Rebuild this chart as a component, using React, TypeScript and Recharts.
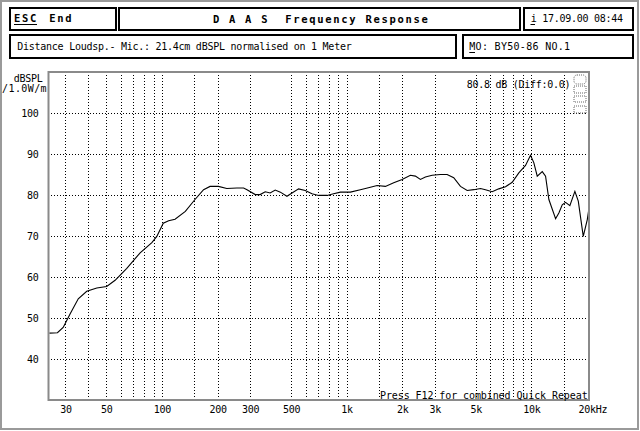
import React from "react";
import {
  LineChart,
  Line,
  XAxis,
  YAxis,
  ReferenceLine,
} from "recharts";

const freqs = [
  24.4, 27, 29, 31.6, 35, 38.9, 44.1, 49.9, 55.4, 64.1, 75.7, 87.6, 93.2, 101,
  108, 117, 133, 150, 167, 181, 201, 223, 253, 275, 287, 318, 338, 360, 383,
  408, 435, 472, 503, 546, 593, 645, 701, 778, 845, 919, 1041, 1179, 1336,
  1452, 1611, 1787, 1985, 2200, 2342, 2493, 2653, 2886, 3200, 3479, 3777, 4108,
  4467, 4848, 5272, 5610, 6101, 6624, 7203, 7832, 8503, 9245, 9840, 10250,
  10700, 11390, 11870, 12370, 13450, 14010, 14610, 15230, 16070, 17110, 17850,
  18990, 19970, 20400,
];
const levels = [
  46.3, 46.4, 47.7, 51.0, 54.7, 56.5, 57.3, 57.7, 59.2, 62.1, 65.9, 68.4, 69.9,
  73.1, 73.7, 74.1, 76.0, 78.9, 81.3, 82.1, 82.1, 81.6, 81.7, 81.7, 81.3, 80.1,
  80.1, 80.8, 80.5, 81.2, 80.7, 79.7, 80.5, 81.5, 81.1, 80.3, 79.9, 79.9, 80.3,
  80.7, 80.7, 81.3, 81.9, 82.3, 82.1, 83.0, 83.8, 84.8, 84.6, 83.8, 84.4, 84.8,
  85.0, 85.0, 84.2, 82.1, 81.1, 81.3, 81.6, 81.3, 80.8, 81.5, 82.0, 83.1, 85.4,
  87.2, 89.7, 87.9, 84.6, 85.7, 84.6, 78.9, 74.2, 75.6, 77.6, 78.2, 77.4, 80.9,
  78.5, 69.9, 74.0, 76.8,
];

const xLabelTicks = [30, 50, 100, 200, 300, 500, 1000, 2000, 3000, 5000, 10000, 20000];
const xGridLines = [
  30, 40, 50, 60, 70, 80, 90, 100, 150, 200, 300, 500, 600, 700, 800, 900, 1000,
  1500, 2000, 3000, 5000, 6000, 7000, 8000, 9000, 10000, 15000,
];
const yTicks = [40, 50, 60, 70, 80, 90, 100];

const data = freqs.map((f, i) => ({ f, db: levels[i] }));

const MONO = "'DejaVu Sans Mono', 'Liberation Mono', monospace";

function fmtFreq(v: number) {
  return v >= 1000 ? `${v / 1000}k` : `${v}`;
}

function XTick(props: any) {
  const { x, payload } = props;
  const label = fmtFreq(payload.value);
  if (payload.value === 20000) {
    return (
      <text x={x - 9} y={413} textAnchor="start" fontFamily={MONO} fontSize={10} letterSpacing={-0.26} fill="#000">
        {label}Hz
      </text>
    );
  }
  return (
    <text x={x} y={413} textAnchor="middle" fontFamily={MONO} fontSize={10} letterSpacing={-0.26} fill="#000">
      {label}
    </text>
  );
}

function YTick(props: any) {
  const { y, payload } = props;
  return (
    <text x={38.5} y={y + 3.5} textAnchor="end" fontFamily={MONO} fontSize={10} letterSpacing={-0.26} fill="#000">
      {payload.value}
    </text>
  );
}

const txt = { fontFamily: MONO, fontSize: 10, letterSpacing: -0.26, fill: "#000" } as const;
const bold = { fontFamily: MONO, fontSize: 10.5, fontWeight: 700, letterSpacing: 1.7, fill: "#000" } as const;

export default function App() {
  return (
    <div style={{ position: "absolute", left: 0, top: 0, width: 640, height: 431, background: "#fff" }}>
      <LineChart
        width={640}
        height={431}
        data={data}
        margin={{ top: 72, right: 51, bottom: 0, left: 0 }}
      >
        <XAxis
          dataKey="f"
          type="number"
          scale="log"
          domain={[24, 20400]}
          allowDataOverflow
          ticks={xLabelTicks}
          tick={<XTick />}
          tickLine={false}
          axisLine={false}
          height={31}
          interval={0}
        />
        <YAxis
          type="number"
          domain={[30, 110]}
          allowDataOverflow
          ticks={yTicks}
          tick={<YTick />}
          tickLine={false}
          axisLine={false}
          width={48}
          interval={0}
        />
        {yTicks.map((v) => (
          <ReferenceLine key={`h${v}`} y={v} stroke="#000" strokeDasharray="1 2" shapeRendering="crispEdges" />
        ))}
        {xGridLines.map((f) => (
          <ReferenceLine key={`v${f}`} x={f} stroke="#000" strokeDasharray="1 2" shapeRendering="crispEdges" />
        ))}
        <Line
          type="linear"
          dataKey="db"
          stroke="#000"
          strokeWidth={1.1}
          dot={false}
          isAnimationActive={false}
        />
      </LineChart>

      <svg width={640} height={431} style={{ position: "absolute", left: 0, top: 0, pointerEvents: "none" }}>
        {/* screen frame */}
        <rect x={1} y={1} width={637} height={428} fill="none" stroke="#9a9a9a" strokeWidth={2} />

        {/* header boxes */}
        <rect x={10} y={8} width={106} height={22} fill="none" stroke="#000" strokeWidth={2} />
        <rect x={119} y={8} width={401} height={22} fill="none" stroke="#000" strokeWidth={2} />
        <rect x={524} y={8} width={109} height={22} fill="none" stroke="#000" strokeWidth={2} />
        <rect x={10} y={35} width={446} height={23} fill="none" stroke="#000" strokeWidth={2} />
        <rect x={463} y={35} width={170} height={23} fill="none" stroke="#000" strokeWidth={2} />

        <text x={14} y={22} {...bold}>ESC</text>
        <line x1={14} x2={37} y1={24.5} y2={24.5} stroke="#000" strokeWidth={1} />
        <text x={49.3} y={22} {...bold}>End</text>
        <text x={213} y={23} {...bold}>{"D A A S\u00a0\u00a0Frequency Response"}</text>
        <text x={530.7} y={22} {...txt}>i 17.09.00 08:44</text>
        <line x1={530.5} x2={535} y1={24.5} y2={24.5} stroke="#000" strokeWidth={1} />

        <text x={17.3} y={50} {...txt}>Distance Loudsp.- Mic.: 21.4cm dBSPL normalised on 1 Meter</text>
        <text x={469.3} y={50} {...txt} letterSpacing={0.3}>MO: BY50-86 NO.1</text>
        <line x1={469.3} x2={475} y1={52.5} y2={52.5} stroke="#000" strokeWidth={1} />

        {/* axis title */}
        <text x={42.5} y={81.7} textAnchor="end" {...txt}>dBSPL</text>
        <text x={47} y={91.5} textAnchor="end" {...txt} letterSpacing={0.4}>/1.0W/m</text>

        {/* plot frame */}
        <rect x={48.5} y={72} width={540.5} height={328} fill="none" stroke="#8a8a8a" strokeWidth={2} />

        <text x={466.7} y={88} {...txt}>80.8 dB (Diff:0.0)</text>
        <text x={380} y={399} {...txt} letterSpacing={-0.09}>Press F12 for combined Quick Repeat</text>

        {/* small side icons */}
        <rect x={574} y={75} width={12} height={9} rx={3} fill="none" stroke="#666" strokeDasharray="1 1" />
        <rect x={574} y={86} width={12} height={7} fill="none" stroke="#666" strokeDasharray="1 1" />
        <rect x={574} y={96} width={12} height={6} fill="none" stroke="#666" strokeDasharray="1 1" />
        <rect x={574} y={106} width={12} height={7} fill="none" stroke="#666" strokeDasharray="1 1" />
      </svg>
    </div>
  );
}
